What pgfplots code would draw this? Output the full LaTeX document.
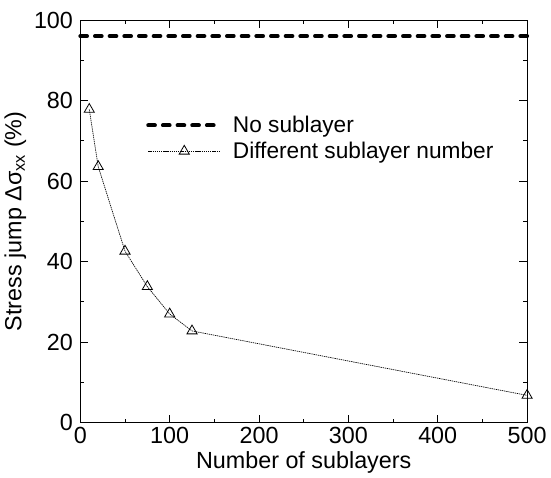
\documentclass[border=0pt]{standalone}
\usepackage{fontspec}
\setmainfont{Liberation Sans}
\usepackage{pgfplots}
\pgfplotsset{compat=1.18}

\begin{document}
\begin{tikzpicture}
\begin{axis}[
    scale only axis,
    width=335pt,
    height=302pt,
    xmin=0, xmax=500,
    ymin=0, ymax=100,
    xtick={0,100,...,500},
    ytick={0,20,...,100},
    minor xtick={50,150,...,450},
    minor ytick={10,30,...,90},
    tick align=inside,
    major tick length=6pt,
    minor tick length=3pt,
    axis line style={line width=0.7pt},
    every tick/.style={black, line width=0.7pt},
    /pgf/number format/assume math mode=true,
    tick label style={font=\fontsize{17.5}{19}\selectfont},
    xticklabel style={yshift=0.5pt},
    yticklabel style={xshift=-2pt},
    xlabel={Number of sublayers},
    ylabel={Stress jump Δσ\textsubscript{xx} (\%)},
    label style={font=\fontsize{17.5}{19}\selectfont},
    xlabel style={yshift=1pt},
    ylabel style={yshift=-1pt},
    legend style={at={(axis cs:69,77.5)}, anchor=north west, draw=none, fill=none,
        font=\fontsize{17}{19}\selectfont, row sep=1.5pt},
    legend cell align=left,
    legend image code/.code={
        \draw[mark repeat=2, mark phase=2, #1]
            plot coordinates {(0pt,0pt) (27pt,0pt) (54pt,0pt)};
    },
    clip=false,
]
% flat reference level without sublayers
\addplot[black, line width=3pt, line cap=round, dash pattern=on 5pt off 6pt]
coordinates {
    (0, 96) (500, 96)
};
\addlegendentry{\hspace*{6pt}No sublayer}
% stress jump for each sublayer count
\addplot[black, line width=0.5pt, dash pattern=on 1pt off 0.6pt,
    mark=triangle, mark size=4.4pt,
    mark options={solid, line width=0.6pt, fill=white}]
coordinates {
    (10, 77.8)
    (20, 63.6)
    (50, 42.6)
    (75, 33.8)
    (100, 27.0)
    (125, 22.8)
    (500, 6.8)
};
\addlegendentry{\hspace*{6pt}Different sublayer number}
% white margin above the frame, as in the original
\path (rel axis cs:0,1) ++(0pt,15pt);
\end{axis}
\end{tikzpicture}
\end{document}
